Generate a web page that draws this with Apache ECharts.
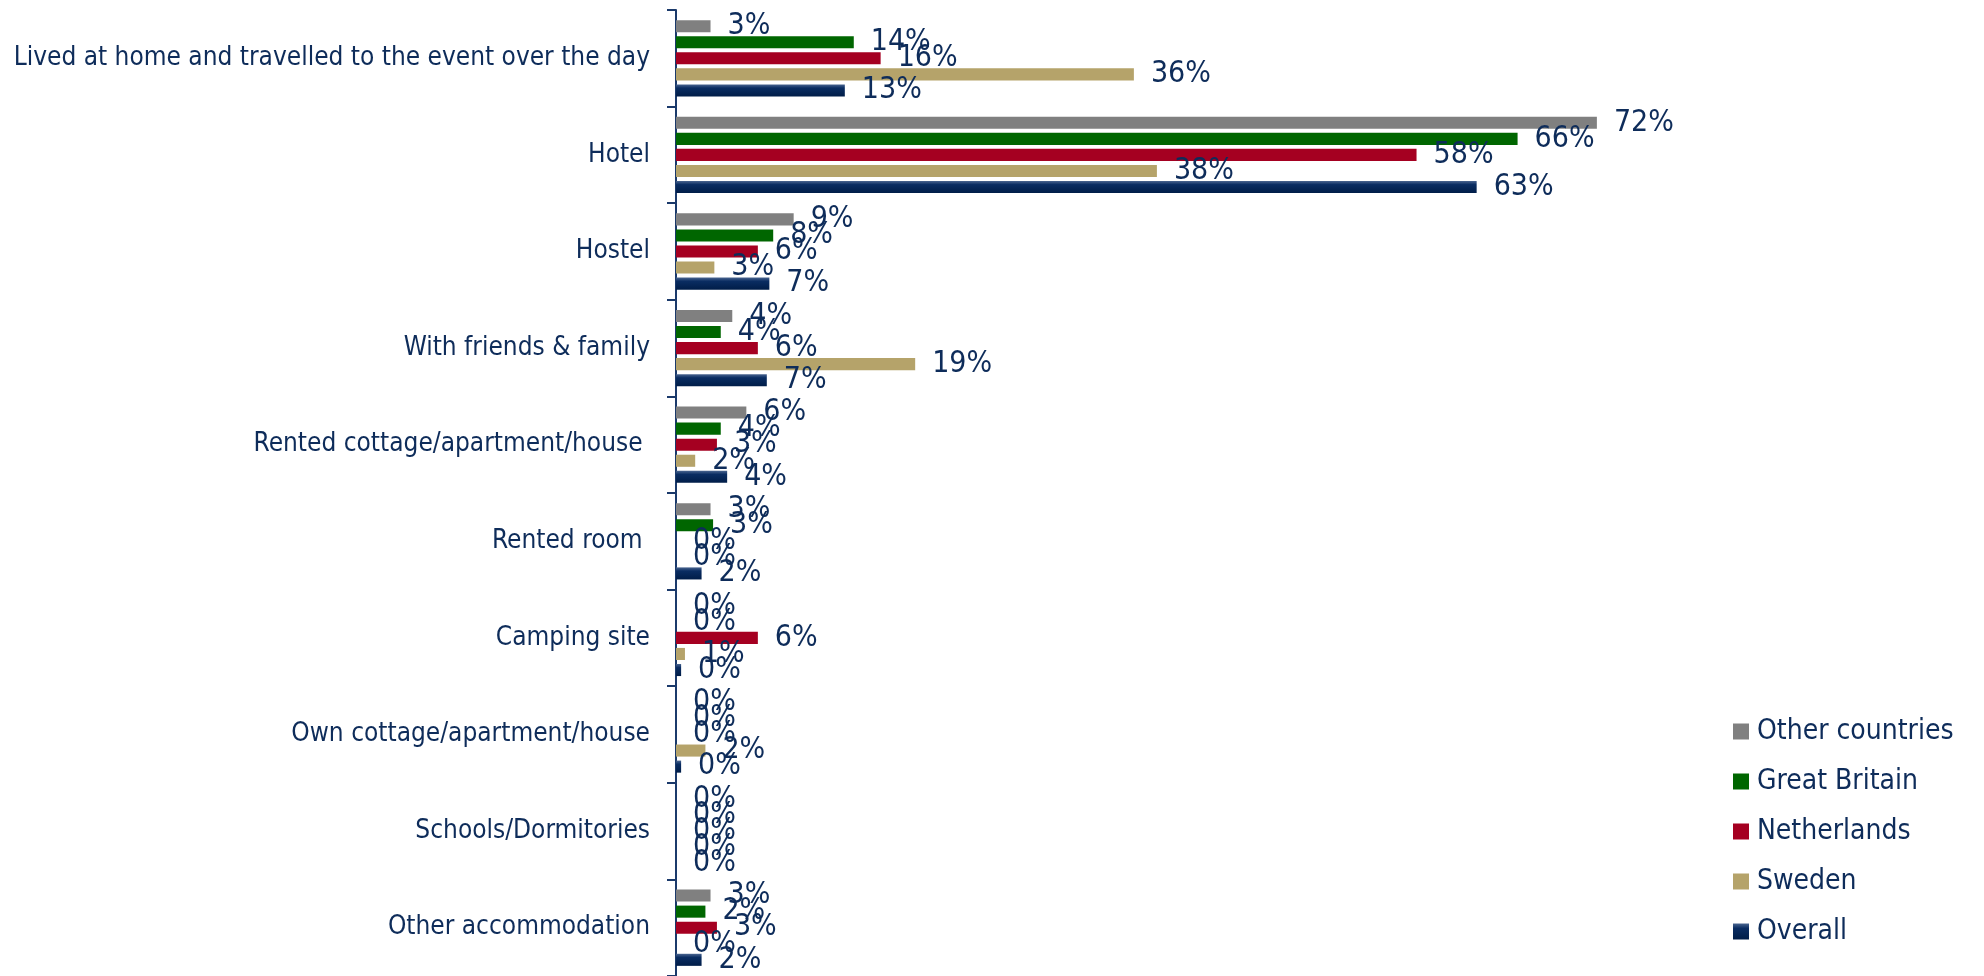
<!DOCTYPE html>
<html>
<head>
<meta charset="utf-8" />
<title>Accommodation</title>
<script src="https://cdn.jsdelivr.net/npm/echarts@6/dist/echarts.min.js"></script>
<style>
  html, body { margin: 0; padding: 0; background: #fff; }
  #chart { width: 1984px; height: 976px; }
</style>
</head>
<body>
<div id="chart"></div>
<script>
	// categories, top to bottom
	var categorias = [
		'Lived at home and travelled to the event over the day',
		'Hotel',
		'Hostel',
		'With friends & family',
		'Rented cottage/apartment/house ',
		'Rented room ',
		'Camping site',
		'Own cottage/apartment/house',
		'Schools/Dormitories',
		'Other accommodation'
	];

	// values in % (labels show them rounded)
	var outrosPaises  = [2.7, 72.0, 9.2, 4.4, 5.5, 2.7, 0, 0, 0, 2.7];
	var graBretanha   = [13.9, 65.8, 7.6, 3.5, 3.5, 2.9, 0, 0, 0, 2.3];
	var holanda       = [16.0, 57.9, 6.4, 6.4, 3.2, 0, 6.4, 0, 0, 3.2];
	var suecia        = [35.8, 37.6, 3.0, 18.7, 1.5, 0, 0.7, 2.3, 0, 0];
	var geral         = [13.2, 62.6, 7.3, 7.1, 4.0, 2.0, 0.4, 0.4, 0, 2.0];

	var nomes = ['Other countries', 'Great Britain', 'Netherlands', 'Sweden', 'Overall'];
	var valores = [outrosPaises, graBretanha, holanda, suecia, geral];

	var corTexto = '#0E2C5A';
	var fonte = "Tahoma, 'DejaVu Sans Condensed', 'DejaVu Sans', sans-serif";
	var cores = [
		'#808080',
		'#006600',
		'#A50021',
		'#B5A36A',
		new echarts.graphic.LinearGradient(0, 0, 0, 1, [
			{ offset: 0, color: '#4A6590' },
			{ offset: 0.3, color: '#0A2D62' },
			{ offset: 1, color: '#001D48' }
		])
	];

	var option = {
		animation: false,
		textStyle: { fontFamily: fonte },
		grid: { left: 676, right: 29, top: 10, bottom: 0, containLabel: false },
		legend: {
			orient: 'vertical', left: 1728, top: 711,
			itemWidth: 16, itemHeight: 16, itemGap: 19,
			icon: 'rect',
			data: nomes,
			textStyle: { fontSize: 28, color: corTexto, fontFamily: fonte, lineHeight: 31, padding: [0, 0, 0, 3] }
		},
		xAxis: { type: 'value', min: 0, max: 100, show: false },
		yAxis: {
			type: 'category', inverse: true, data: categorias,
			axisLine: { show: true, lineStyle: { color: '#1B3A6B', width: 2 } },
			axisTick: { show: true, length: 9, lineStyle: { color: '#1B3A6B', width: 2 } },
			axisLabel: { fontSize: 26, color: corTexto, margin: 26, fontFamily: fonte },
			splitLine: { show: false }
		},
		series: nomes.map(function (n, i) {
			return {
				name: n,
				type: 'bar',
				data: valores[i],
				barCategoryGap: '21%',
				barGap: '33%',
				itemStyle: { color: cores[i] },
				label: {
					show: true, position: 'right', distance: 17,
					fontSize: 30, color: corTexto, fontFamily: fonte,
					formatter: function (p) { return Math.round(p.value) + '%'; }
				}
			};
		})
	};

	var chart = echarts.init(document.getElementById('chart'));
	chart.setOption(option);
</script>
</body>
</html>
